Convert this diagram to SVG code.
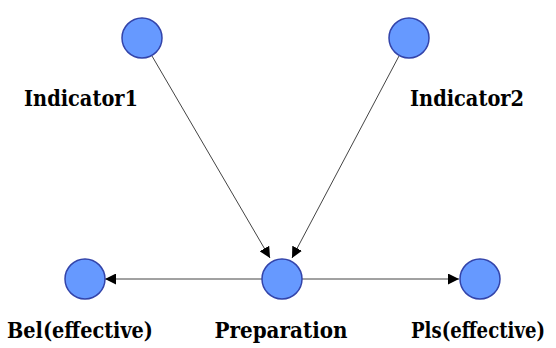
<svg xmlns="http://www.w3.org/2000/svg" width="556" height="348" viewBox="0 0 556 348">
<style>
.node circle{fill:#6699ff;stroke:#3344aa;stroke-width:1.5}
.lbl{font-family:"DejaVu Serif","Liberation Serif",serif;font-weight:bold;font-size:23px;fill:#000;text-anchor:middle}
.edge{stroke:#444;stroke-width:1;fill:none}
</style>
<defs>
<marker id="arr" viewBox="0 0 10 10" refX="10" refY="5" markerWidth="11" markerHeight="11" markerUnits="userSpaceOnUse" orient="auto">
<path d="M0,0 L10,5 L0,10 z" fill="#000"/>
</marker>
</defs>
<rect width="556" height="348" fill="#fff"/>
<g id="edges">
<line class="edge" x1="152" y1="56" x2="270" y2="258" marker-end="url(#arr)"/>
<line class="edge" x1="399" y1="56" x2="292" y2="258" marker-end="url(#arr)"/>
<line class="edge" x1="262" y1="279" x2="105" y2="279" marker-end="url(#arr)"/>
<line class="edge" x1="302" y1="279" x2="459" y2="279" marker-end="url(#arr)"/>
</g>
<g id="indicator1" class="node"><circle cx="142" cy="38" r="20"/><text class="lbl" x="81" y="106" textLength="114" lengthAdjust="spacingAndGlyphs">Indicator1</text></g>
<g id="indicator2" class="node"><circle cx="409" cy="38" r="20"/><text class="lbl" x="467" y="106" textLength="114" lengthAdjust="spacingAndGlyphs">Indicator2</text></g>
<g id="preparation" class="node"><circle cx="282" cy="279" r="20"/><text class="lbl" x="281" y="338" textLength="133" lengthAdjust="spacingAndGlyphs">Preparation</text></g>
<g id="bel" class="node"><circle cx="85" cy="279" r="20"/><text class="lbl" x="80" y="338" textLength="146" lengthAdjust="spacingAndGlyphs">Bel(effective)</text></g>
<g id="pls" class="node"><circle cx="480" cy="279" r="20"/><text class="lbl" x="478" y="338" textLength="134" lengthAdjust="spacingAndGlyphs">Pls(effective)</text></g>
</svg>
